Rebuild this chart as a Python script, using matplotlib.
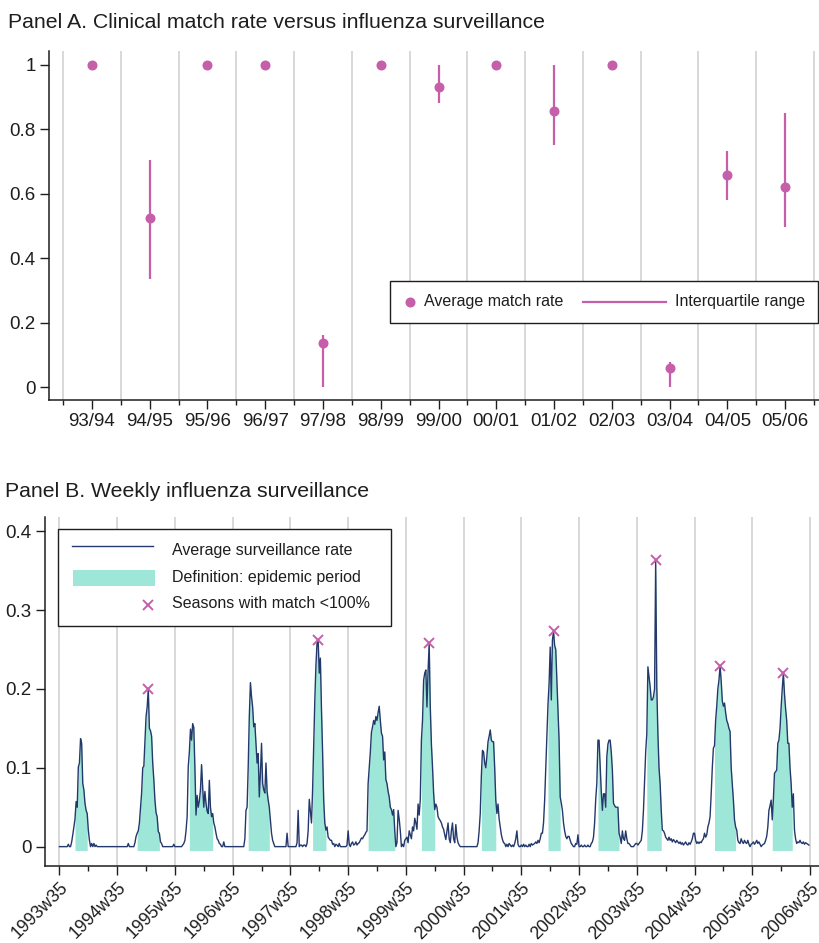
"""Clinical match rate and weekly influenza surveillance, two panels."""

import matplotlib

matplotlib.use("Agg")
import matplotlib.pyplot as plt
import numpy as np
from matplotlib.patches import Rectangle
from matplotlib.ticker import FixedLocator, FuncFormatter

plt.rcParams["font.family"] = ["Liberation Sans", "DejaVu Sans"]

# Panel A: clinical match rate per season
seasons = ["93/94", "94/95", "95/96", "96/97", "97/98", "98/99", "99/00",
           "00/01", "01/02", "02/03", "03/04", "04/05", "05/06"]
match_mean = [1.0, 0.526, 1.0, 1.0, 0.138, 1.0, 0.931, 1.0, 0.857, 1.0, 0.060, 0.657, 0.622]
match_q1 = [1.0, 0.334, 1.0, 1.0, 0.0, 1.0, 0.881, 1.0, 0.750, 1.0, 0.0, 0.581, 0.498]
match_q3 = [1.0, 0.705, 1.0, 1.0, 0.161, 1.0, 1.0, 1.0, 1.0, 1.0, 0.079, 0.733, 0.850]

# Panel B: weekly surveillance rate, one list per season (week 35 .. week 34)
rate_1993 = [0, 0, 0, 0, 0, 0, 0, 0, 0.003, 0, 0, 0.006, 0.015, 0.025, 0.035, 0.057, 0.05, 0.101,
             0.106, 0.137, 0.131, 0.08, 0.072, 0.055, 0.046, 0.042, 0.021, 0.008, 0, 0.004, 0, 0.004,
             0, 0.002, 0, 0, 0, 0, 0, 0, 0, 0, 0, 0, 0, 0, 0, 0, 0, 0, 0, 0]
rate_1994 = [0, 0, 0, 0, 0, 0, 0, 0, 0, 0, 0.004, 0, 0, 0, 0, 0, 0.005, 0.013, 0.017, 0.02, 0.03,
             0.05, 0.068, 0.1, 0.102, 0.135, 0.165, 0.177, 0.2, 0.15, 0.147, 0.14, 0.106, 0.085, 0.059,
             0.043, 0.038, 0.019, 0.017, 0.006, 0.004, 0, 0, 0, 0, 0, 0, 0, 0, 0, 0, 0.003]
rate_1995 = [0, 0, 0, 0, 0, 0, 0, 0.002, 0.004, 0.008, 0.02, 0.038, 0.101, 0.12, 0.149, 0.135, 0.156,
             0.151, 0.1, 0.04, 0.065, 0.05, 0.058, 0.072, 0.104, 0.075, 0.05, 0.07, 0.055, 0.045, 0.042,
             0.084, 0.05, 0.038, 0.042, 0.03, 0.025, 0.017, 0.01, 0.008, 0.004, 0.003, 0, 0, 0.006, 0,
             0, 0, 0, 0, 0, 0]
rate_1996 = [0, 0, 0, 0, 0, 0, 0, 0, 0, 0, 0, 0.01, 0.046, 0.05, 0.101, 0.165, 0.208, 0.19, 0.177,
             0.152, 0.156, 0.13, 0.106, 0.118, 0.063, 0.093, 0.131, 0.08, 0.072, 0.068, 0.106, 0.07,
             0.059, 0.05, 0.034, 0.017, 0.008, 0.004, 0, 0, 0, 0, 0, 0, 0, 0, 0, 0, 0, 0.017, 0, 0]
rate_1997 = [0, 0, 0, 0, 0, 0, 0.005, 0.046, 0, 0.002, 0.002, 0, 0.002, 0.002, 0, 0.004, 0.02, 0.06,
             0.045, 0.03, 0.072, 0.13, 0.186, 0.23, 0.258, 0.262, 0.22, 0.239, 0.174, 0.12, 0.059,
             0.03, 0.021, 0.025, 0.012, 0.01, 0.008, 0.008, 0.003, 0.004, 0, 0.003, 0.002, 0, 0.004,
             0, 0, 0, 0, 0, 0, 0.002]
rate_1998 = [0.02, 0.003, 0, 0.004, 0.006, 0.002, 0.003, 0.006, 0.002, 0.004, 0.005, 0.008, 0.011,
             0.01, 0.013, 0.015, 0.018, 0.02, 0.08, 0.1, 0.12, 0.145, 0.152, 0.16, 0.155, 0.165, 0.16,
             0.17, 0.178, 0.16, 0.144, 0.14, 0.11, 0.12, 0.085, 0.08, 0.07, 0.063, 0.05, 0.047, 0.04,
             0.047, 0.02, 0, 0.005, 0.046, 0.035, 0.02, 0, 0.003, 0, 0.008]
rate_1999 = [0.01, 0.012, 0.005, 0.02, 0.015, 0.01, 0.025, 0.02, 0.036, 0.03, 0.022, 0.054, 0.04,
             0.06, 0.135, 0.16, 0.211, 0.22, 0.224, 0.177, 0.223, 0.258, 0.177, 0.13, 0.101, 0.068,
             0.047, 0.054, 0.05, 0.038, 0.035, 0.033, 0.03, 0.025, 0.022, 0.015, 0.009, 0.02, 0.03,
             0.01, 0.005, 0.02, 0.03, 0.01, 0.005, 0.028, 0.012, 0.005, 0.002, 0, 0, 0]
rate_2000 = [0, 0, 0, 0, 0, 0, 0, 0, 0, 0, 0, 0, 0, 0.005, 0.02, 0.042, 0.09, 0.122, 0.12, 0.106,
             0.1, 0.115, 0.133, 0.14, 0.148, 0.135, 0.133, 0.133, 0.1, 0.059, 0.042, 0.054, 0.035,
             0.025, 0.015, 0.009, 0.005, 0.004, 0, 0.003, 0, 0.004, 0.002, 0, 0.002, 0, 0.004, 0.01,
             0.02, 0.003, 0, 0]
rate_2001 = [0.002, 0, 0.003, 0, 0.002, 0, 0, 0.003, 0, 0.004, 0.002, 0.003, 0.004, 0.006, 0.004,
             0.008, 0.005, 0.01, 0.017, 0.017, 0.03, 0.059, 0.1, 0.144, 0.18, 0.207, 0.253, 0.186,
             0.262, 0.273, 0.255, 0.25, 0.211, 0.17, 0.135, 0.063, 0.055, 0.046, 0.03, 0.02, 0.013,
             0.01, 0.013, 0.013, 0.008, 0.004, 0.002, 0, 0, 0.004, 0.003, 0.015]
rate_2002 = [0, 0, 0.002, 0, 0, 0.002, 0, 0, 0.002, 0, 0, 0.004, 0.006, 0.012, 0.03, 0.06, 0.08,
             0.135, 0.135, 0.101, 0.07, 0.046, 0.067, 0.067, 0.05, 0.114, 0.13, 0.135, 0.135, 0.12,
             0.097, 0.055, 0.052, 0.05, 0.05, 0.05, 0.017, 0.012, 0.004, 0.02, 0.01, 0.008, 0.02,
             0.01, 0.004, 0.004, 0.002, 0, 0, 0, 0.002, 0.004]
rate_2003 = [0.004, 0.002, 0.004, 0.006, 0.008, 0.02, 0.046, 0.084, 0.12, 0.143, 0.228, 0.215,
             0.203, 0.186, 0.186, 0.19, 0.2, 0.363, 0.203, 0.143, 0.1, 0.08, 0.046, 0.021, 0.02,
             0.017, 0.012, 0.01, 0.008, 0.012, 0.008, 0.01, 0.006, 0.009, 0.007, 0.005, 0.008, 0.006,
             0.004, 0.006, 0.003, 0.005, 0.002, 0.004, 0.006, 0.003, 0.002, 0.005, 0.003, 0.006,
             0.01, 0.017]
rate_2004 = [0.017, 0.008, 0.004, 0.006, 0.004, 0.006, 0.005, 0.008, 0.01, 0.017, 0.012, 0.015,
             0.025, 0.03, 0.038, 0.067, 0.1, 0.125, 0.128, 0.16, 0.178, 0.2, 0.211, 0.229, 0.21,
             0.185, 0.178, 0.182, 0.17, 0.16, 0.156, 0.15, 0.146, 0.1, 0.08, 0.059, 0.034, 0.025,
             0.021, 0.008, 0.005, 0.004, 0.01, 0.006, 0.004, 0.008, 0.005, 0.004, 0.008, 0.003, 0,
             0.003]
rate_2005 = [0.004, 0.006, 0.003, 0.005, 0.008, 0.004, 0.006, 0.003, 0, 0.002, 0.003, 0.004,
             0.008, 0.013, 0.025, 0.046, 0.052, 0.059, 0.034, 0.06, 0.093, 0.095, 0.097, 0.131,
             0.135, 0.15, 0.177, 0.2, 0.22, 0.194, 0.175, 0.16, 0.131, 0.131, 0.1, 0.08, 0.05, 0.067,
             0.021, 0.01, 0.004, 0.006, 0.005, 0.008, 0.005, 0.004, 0.006, 0.003, 0.005, 0.004,
             0.003, 0.002]

# Epidemic period per season, first and last week (offset from week 35)
epi_start = [14, 18, 13, 14, 20, 18, 14, 16, 24, 17, 9, 18, 18]
epi_end = [25, 38, 34, 33, 32, 42, 26, 29, 35, 36, 22, 37, 36]

year_labels = ["1993w35", "1994w35", "1995w35", "1996w35", "1997w35", "1998w35", "1999w35",
               "2000w35", "2001w35", "2002w35", "2003w35", "2004w35", "2005w35", "2006w35"]

pink = "#c55fa9"
navy = "#24396b"
teal = "#9de6d8"
grid_grey = "#d2d2d2"
text_col = "#1e1e1e"

season_rates = [rate_1993, rate_1994, rate_1995, rate_1996, rate_1997, rate_1998, rate_1999,
                rate_2000, rate_2001, rate_2002, rate_2003, rate_2004, rate_2005]
weeks_per_season = 52

fig = plt.figure(figsize=(8.2, 9.43), dpi=100)

# ---------------- Panel A ----------------
ax_a = fig.add_axes([0.0598, 0.5758, 0.9402, 0.3701])
pos = np.arange(len(seasons))
for edge in np.arange(-0.5, len(seasons), 1.0):
    ax_a.axvline(edge, color=grid_grey, lw=1.2, zorder=0)
ax_a.vlines(pos, match_q1, match_q3, color=pink, lw=1.6, zorder=2)
ax_a.plot(pos, match_mean, "o", color=pink, ms=6.2, zorder=3)

ax_a.set_xlim(-0.742, 12.604)
ax_a.set_ylim(-0.04, 1.043)
ax_a.set_xticks(pos)
ax_a.set_xticklabels(seasons)
ax_a.xaxis.set_minor_locator(FixedLocator(np.arange(-0.5, len(seasons), 1.0)))
ax_a.set_yticks([0, 0.2, 0.4, 0.6, 0.8, 1.0])
ax_a.yaxis.set_major_formatter(FuncFormatter(lambda v, _: f"{v:g}"))

# Panel A legend, drawn by hand in axes coordinates
ax_a.add_patch(Rectangle((0.442, 0.2206), 0.555, 0.1204, transform=ax_a.transAxes,
                         facecolor="white", edgecolor=text_col, lw=1.0, zorder=5, clip_on=False))
ax_a.plot([0.468], [0.281], "o", color=pink, ms=6.2, transform=ax_a.transAxes, zorder=6)
ax_a.text(0.486, 0.281, "Average match rate", transform=ax_a.transAxes, fontsize=11.5,
          va="center", ha="left", color=text_col, zorder=6)
ax_a.plot([0.693, 0.800], [0.281, 0.281], color=pink, lw=1.6, transform=ax_a.transAxes, zorder=6)
ax_a.text(0.812, 0.281, "Interquartile range", transform=ax_a.transAxes, fontsize=11.5,
          va="center", ha="left", color=text_col, zorder=6)

# ---------------- Panel B ----------------
ax_b = fig.add_axes([0.0549, 0.0817, 0.9451, 0.3701])
rate = np.concatenate([np.asarray(r, dtype=float) for r in season_rates])
week_x = np.arange(len(rate))
year_pos = np.arange(len(year_labels)) * weeks_per_season

for yp in year_pos:
    ax_b.axvline(yp, color=grid_grey, lw=1.2, zorder=0)

for k, (s, e) in enumerate(zip(epi_start, epi_end)):
    offs = week_x - k * weeks_per_season
    mask = (offs >= s) & (offs <= e)
    ax_b.fill_between(week_x, -0.005, rate, where=mask, color=teal, lw=0, zorder=1)

ax_b.plot(week_x, rate, color=navy, lw=1.0, zorder=2)

for k, r in enumerate(season_rates):
    if match_mean[k] < 1:
        peak = int(np.argmax(r))
        ax_b.plot(k * weeks_per_season + peak, r[peak], "x", color=pink, ms=7.5, mew=1.4, zorder=3)

ax_b.set_xlim(-13, 685)
ax_b.set_ylim(-0.0245, 0.418)
ax_b.set_xticks(year_pos)
ax_b.set_xticklabels(year_labels, rotation=45, ha="right", va="top", rotation_mode="anchor")
ax_b.xaxis.set_minor_locator(FixedLocator(year_pos[:-1] + weeks_per_season / 2))
ax_b.set_yticks([0, 0.1, 0.2, 0.3, 0.4])
ax_b.yaxis.set_major_formatter(FuncFormatter(lambda v, _: f"{v:g}"))

# Panel B legend, drawn by hand in axes coordinates
ax_b.add_patch(Rectangle((0.0168, 0.6877), 0.4297, 0.2779, transform=ax_b.transAxes,
                         facecolor="white", edgecolor=text_col, lw=1.0, zorder=5, clip_on=False))
ax_b.plot([0.0348, 0.1394], [0.9169, 0.9169], color=navy, lw=1.0, transform=ax_b.transAxes, zorder=6)
ax_b.add_patch(Rectangle((0.0361, 0.8023), 0.1058, 0.0458, transform=ax_b.transAxes,
                         facecolor=teal, lw=0, zorder=6))
ax_b.plot([0.1329], [0.7479], "x", color=pink, ms=7.5, mew=1.4, transform=ax_b.transAxes, zorder=6)
legend_b = ["Average surveillance rate", "Definition: epidemic period", "Seasons with match <100%"]
for label, ty in zip(legend_b, [0.9034, 0.826, 0.7507]):
    ax_b.text(0.1639, ty, label, transform=ax_b.transAxes, fontsize=11.5, va="center",
              ha="left", color=text_col, zorder=6)

# shared axis styling
for ax in (ax_a, ax_b):
    for side in ("top", "right"):
        ax.spines[side].set_visible(False)
    for side in ("left", "bottom"):
        ax.spines[side].set_linewidth(1.1)
        ax.spines[side].set_color(text_col)
    ax.tick_params(axis="both", which="major", length=6.5, width=1.0, labelsize=13.5,
                   colors=text_col, pad=3)
    ax.tick_params(axis="x", which="minor", length=3.5, width=1.0, color=text_col)
# rotated date labels a little smaller so they stay inside the figure
ax_b.tick_params(axis="x", which="major", labelsize=12.8, pad=3)

fig.text(0.0094, 0.970, "Panel A. Clinical match rate versus influenza surveillance",
         fontsize=15.3, color=text_col, va="baseline")
fig.text(0.006, 0.473, "Panel B. Weekly influenza surveillance",
         fontsize=15.3, color=text_col, va="baseline")

fig.savefig("out.png", dpi=100)
